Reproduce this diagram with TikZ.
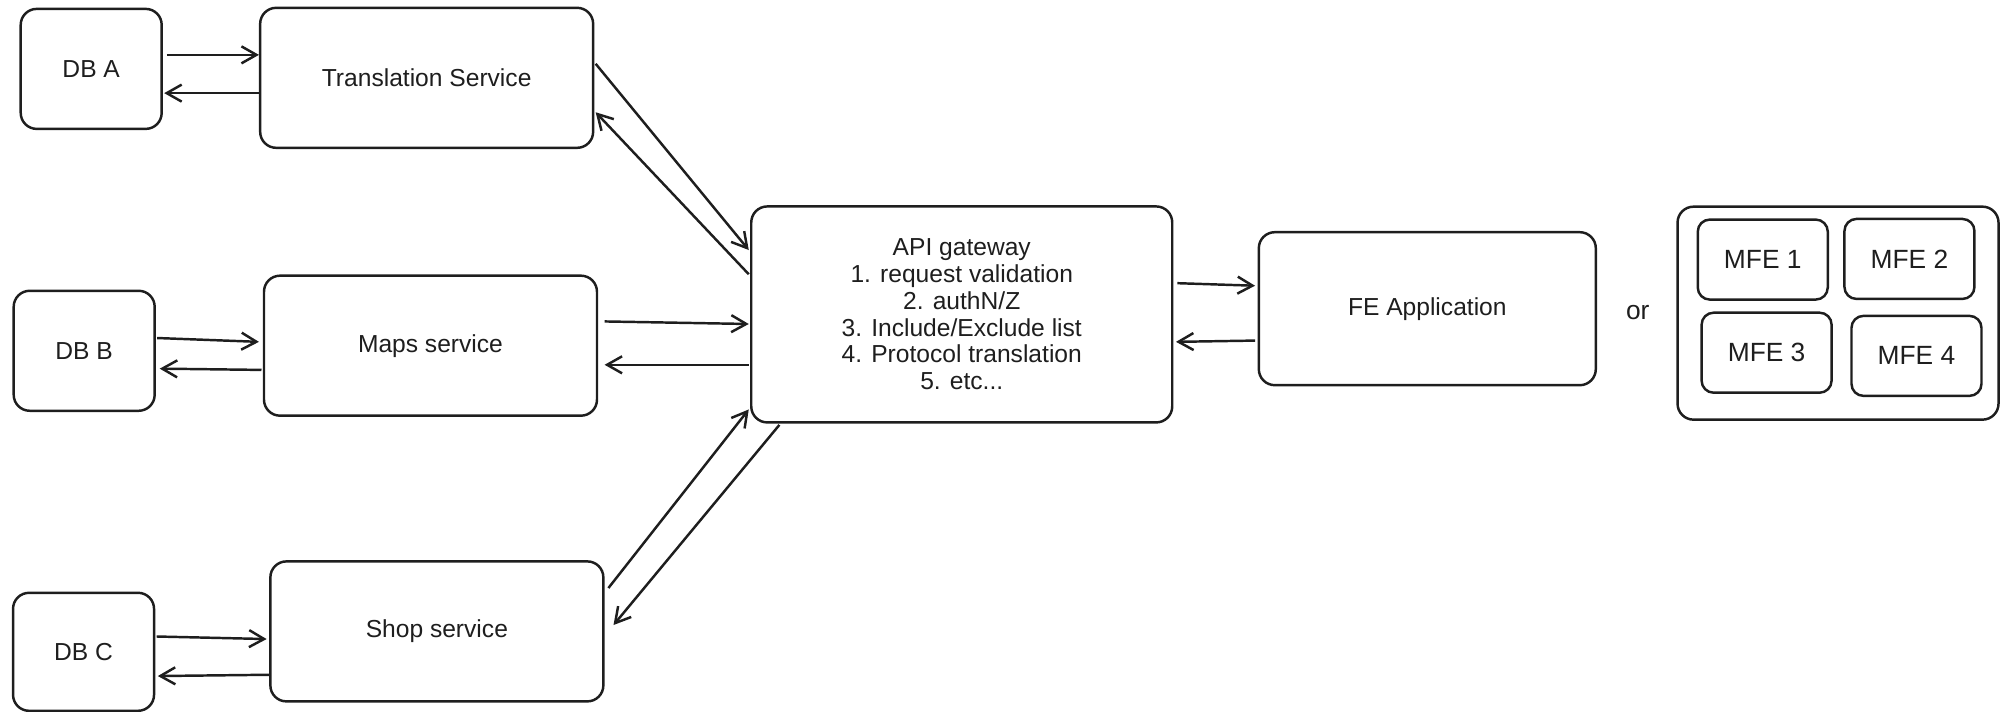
\documentclass[tikz,border=0pt]{standalone}
\usepackage{fontspec}
\setmainfont{Liberation Sans}
\usepackage{tikz}
\usetikzlibrary{arrows.meta,calc}
\usepackage{xcolor}
\definecolor{ink}{RGB}{30,30,30}

\begin{document}
\begin{tikzpicture}[x=0.012755cm,y=-0.012755cm,
    box/.style={draw=ink,line width=0.7pt,rounded corners=1.6mm,inner sep=0pt,align=center,text=ink,font=\fontsize{7}{7.6}\selectfont},
    dbbox/.style={box,minimum width=14.1mm,minimum height=12mm},
    svcbox/.style={box,minimum width=33.3mm,minimum height=14mm},
    mfebox/.style={box,rounded corners=1.2mm,minimum width=13mm,minimum height=8mm,font=\fontsize{7.5}{8}\selectfont},
    link/.style={draw=ink,line width=0.7pt,-{Straight Barb[length=1.5mm,width=1.7mm]}}]
    \useasboundingbox (0,0) rectangle (1568,558);

    % databases
    \node[dbbox] (dba) at (71.5,54) {DB A};
    \node[dbbox] (dbb) at (66,275) {DB B};
    \node[dbbox,minimum height=11.8mm] (dbc) at (65.5,511) {DB C};

    % services
    \node[svcbox] (ts) at (334.5,61) {Translation Service};
    \node[svcbox] (maps) at (337.5,271) {Maps service};
    \node[svcbox] (shop) at (342.5,495) {Shop service};

    % gateway and front end
    \node[box,minimum width=42.1mm,minimum height=21.6mm] (api) at (754,246.5)
        {API gateway\\1. request validation\\2. authN/Z\\3. Include/Exclude list\\4. Protocol translation\\5. etc...};
    \node[box,minimum width=33.7mm,minimum height=15.3mm] (fe) at (1119,242) {FE Application};
    \node[text=ink,font=\fontsize{7.5}{8}\selectfont] (or) at (1284,245) {or};

    % micro frontends
    \node[box,minimum width=32.1mm,minimum height=21.3mm] (mfe) at (1441,245.5) {};
    \node[mfebox] (mfea) at (1382,203.5) {MFE 1};
    \node[mfebox] (mfeb) at (1497,203) {MFE 2};
    \node[mfebox] (mfec) at (1385,276.5) {MFE 3};
    \node[mfebox] (mfed) at (1502.5,279) {MFE 4};

    % db <-> service
    \draw[link] ($(dba.east)+(3,-11)$) -- ($(ts.west)+(0,-18)$);
    \draw[link] ($(ts.west)+(0,12)$) -- ($(dba.east)+(1,19)$);
    \draw[link] ($(dbb.east)+(1,-10)$) -- ($(maps.west)+(-3,-3)$);
    \draw[link] ($(maps.west)+(-1,19)$) -- ($(dbb.east)+(3,14)$);
    \draw[link] ($(dbc.east)+(1,-12)$) -- ($(shop.west)+(-2,6)$);
    \draw[link] ($(shop.west)+(0,34)$) -- ($(dbc.east)+(2,19)$);

    % service <-> gateway
    \draw[link] ($(ts.east)+(1,-11)$) -- ($(api.west)+(-1,-50.5)$);
    \draw[link] ($(api.west)+(-1,-31.5)$) -- ($(ts.east)+(1,27)$);
    \draw[link] ($(maps.east)+(5,-19)$) -- ($(api.west)+(-1,7.5)$);
    \draw[link] ($(api.west)+(-1,39.5)$) -- ($(maps.east)+(5,15)$);
    \draw[link] ($(shop.east)+(3,-34)$) -- ($(api.west)+(-1,74.5)$);
    \draw[link] ($(api.south west)+(23,1)$) -- ($(shop.east)+(7,-5)$);

    % gateway <-> front end
    \draw[link] ($(api.east)+(3,-24.5)$) -- ($(fe.west)+(-2,-18)$);
    \draw[link] ($(fe.west)+(-2,25)$) -- ($(api.east)+(2,21.5)$);
\end{tikzpicture}
\end{document}
